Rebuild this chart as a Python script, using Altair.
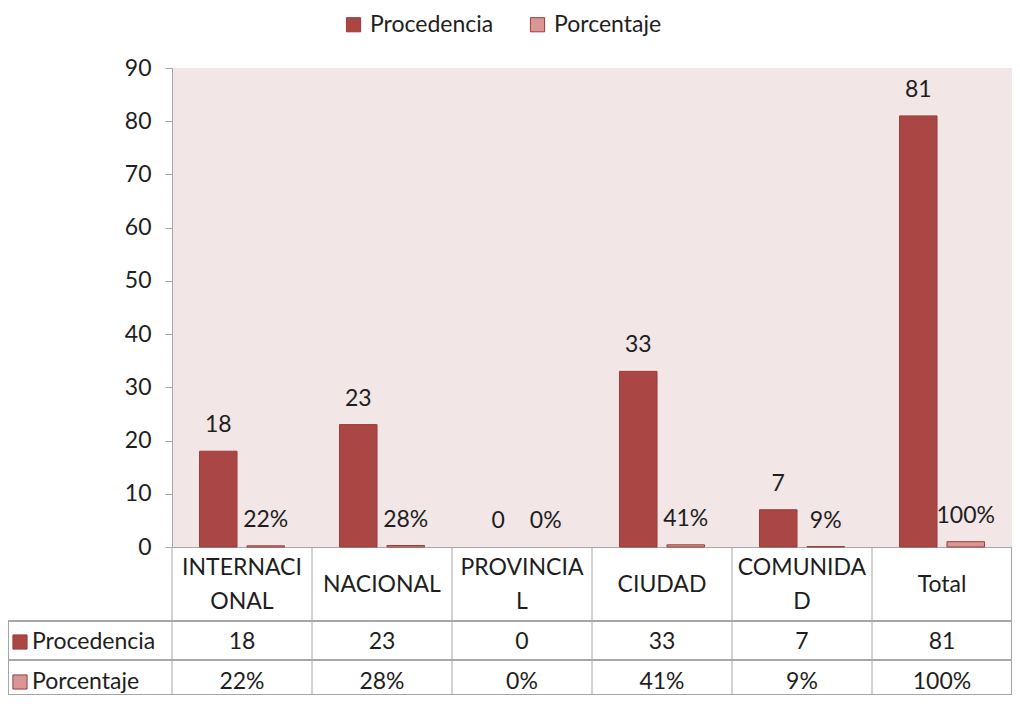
import altair as alt
import pandas as pd

categories = ["INTERNACIONAL", "NACIONAL", "PROVINCIAL", "CIUDAD", "COMUNIDAD", "Total"]
header_single = ["", "NACIONAL", "", "CIUDAD", "", "Total"]
header_line1 = ["INTERNACI", "", "PROVINCIA", "", "COMUNIDA", ""]
header_line2 = ["ONAL", "", "L", "", "D", ""]
procedencia = [18, 23, 0, 33, 7, 81]
porcentaje = [0.22, 0.28, 0.0, 0.41, 0.09, 1.00]
porcentaje_labels = ["22%", "28%", "0%", "41%", "9%", "100%"]
series = ["Procedencia", "Porcentaje"]
colors = ["#AA4643", "#D99694"]
y_ticks = [0, 10, 20, 30, 40, 50, 60, 70, 80, 90]

FONT = "Lato"
FS = 23
TXT = "#1E1E1E"
GRID = "#A6A6A6"
EDGE = "#9C3D3A"

rows = []
for c, p, q, ql in zip(categories, procedencia, porcentaje, porcentaje_labels):
    rows.append({"cat": c, "serie": "Procedencia", "value": p, "label": str(p)})
    rows.append({"cat": c, "serie": "Porcentaje", "value": q, "label": ql})
long_df = pd.DataFrame(rows)

wide_df = pd.DataFrame({
    "cat": categories,
    "single": header_single,
    "line1": header_line1,
    "line2": header_line2,
    "proc": [str(v) for v in procedencia],
    "pct": porcentaje_labels,
})
series_df = pd.DataFrame({"serie": series})

W, H = 840, 479
TB = 627  # table bottom (px below plot top)
XC = alt.X("cat:N", sort=categories)
x_enc = alt.X("cat:N", sort=categories,
              scale=alt.Scale(paddingInner=0, paddingOuter=0),
              axis=alt.Axis(labels=False, ticks=False, title=None,
                            domainColor=GRID, domainWidth=1))
xoff = alt.XOffset("serie:N", sort=series,
                   scale=alt.Scale(paddingInner=0.21, paddingOuter=0.58))
color = alt.Color("serie:N", sort=series,
                  scale=alt.Scale(domain=series, range=colors),
                  legend=alt.Legend(title=None, orient="none", direction="horizontal",
                                    legendX=170, legendY=-55,
                                    symbolType="square", symbolSize=200,
                                    symbolStrokeColor=EDGE, symbolStrokeWidth=1,
                                    labelFontSize=FS, labelFont=FONT, labelColor=TXT,
                                    labelOffset=5, columnPadding=32))

bars = alt.Chart(long_df).mark_bar(stroke=EDGE, strokeWidth=1).encode(
    x=x_enc,
    xOffset=xoff,
    y=alt.Y("value:Q", scale=alt.Scale(domain=[0, 90], nice=False),
            axis=alt.Axis(values=y_ticks, title=None, grid=False,
                          domainColor=GRID, tickColor=GRID, tickSize=7,
                          labelFontSize=FS, labelFont=FONT, labelColor=TXT,
                          labelPadding=14)),
    color=color,
    strokeOpacity=alt.condition(alt.datum.value == 0, alt.value(0), alt.value(1)),
)

bar_labels = alt.Chart(long_df).mark_text(
    fontSize=FS, font=FONT, color=TXT, baseline="alphabetic", dy=-19
).encode(
    x=XC,
    xOffset=xoff,
    y="value:Q",
    text="label:N",
)

# --- data table below plot ---
def cell_text(field, ypix):
    return alt.Chart(wide_df).mark_text(
        fontSize=FS, font=FONT, color=TXT, baseline="middle"
    ).encode(x=XC, y=alt.value(ypix), text=f"{field}:N")

head_single = cell_text("single", 517)
head_l1 = cell_text("line1", 500)
head_l2 = cell_text("line2", 534)
proc_txt = cell_text("proc", 574)
pct_txt = cell_text("pct", 614)

col_lines = alt.Chart(wide_df).mark_rule(color=GRID, strokeWidth=1).encode(
    x=alt.X("cat:N", sort=categories, bandPosition=0),
    y=alt.value(H), y2=alt.value(TB),
)
right_line = alt.Chart(wide_df).mark_rule(color=GRID, strokeWidth=1).encode(
    x=alt.value(W - 0.5), y=alt.value(H), y2=alt.value(TB))
left_line = alt.Chart(wide_df).mark_rule(color=GRID, strokeWidth=1).encode(
    x=alt.value(-163.5), y=alt.value(553), y2=alt.value(TB))
h1 = alt.Chart(wide_df).mark_rule(color=GRID, strokeWidth=1).encode(
    x=alt.value(-164), x2=alt.value(W), y=alt.value(553))
h2 = alt.Chart(wide_df).mark_rule(color=GRID, strokeWidth=1).encode(
    x=alt.value(-164), x2=alt.value(W), y=alt.value(592))
h3 = alt.Chart(wide_df).mark_rule(color=GRID, strokeWidth=1).encode(
    x=alt.value(-164), x2=alt.value(W), y=alt.value(TB - 0.5))

row_y = alt.Y("serie:N", sort=series, axis=None,
              scale=alt.Scale(domain=series, range=[574, 614], padding=0))
row_sw = alt.Chart(series_df).mark_point(
    shape="square", size=200, filled=True, stroke=EDGE, strokeWidth=1, opacity=1
).encode(
    x=alt.value(-152),
    y=row_y,
    fill=alt.Fill("serie:N", scale=alt.Scale(domain=series, range=colors), legend=None),
)
row_txt = alt.Chart(series_df).mark_text(
    fontSize=FS, font=FONT, color=TXT, baseline="middle", align="left"
).encode(
    x=alt.value(-140),
    y=row_y,
    text="serie:N",
)

plot = alt.layer(bars, bar_labels, head_single, head_l1, head_l2, proc_txt, pct_txt,
                 col_lines, right_line, left_line, h1, h2, h3)
rowlab = alt.layer(row_sw, row_txt)

chart = alt.layer(plot, rowlab).resolve_scale(y="independent", fill="independent").properties(
    width=W, height=H,
    autosize=alt.AutoSizeParams(type="none"),
    padding={"left": 164, "top": 60, "right": 0, "bottom": 149},
    background="white",
).configure_view(fill="#F2E6E6", stroke=None)

chart.save("out.html", embed_options={"renderer": "svg", "actions": False})
